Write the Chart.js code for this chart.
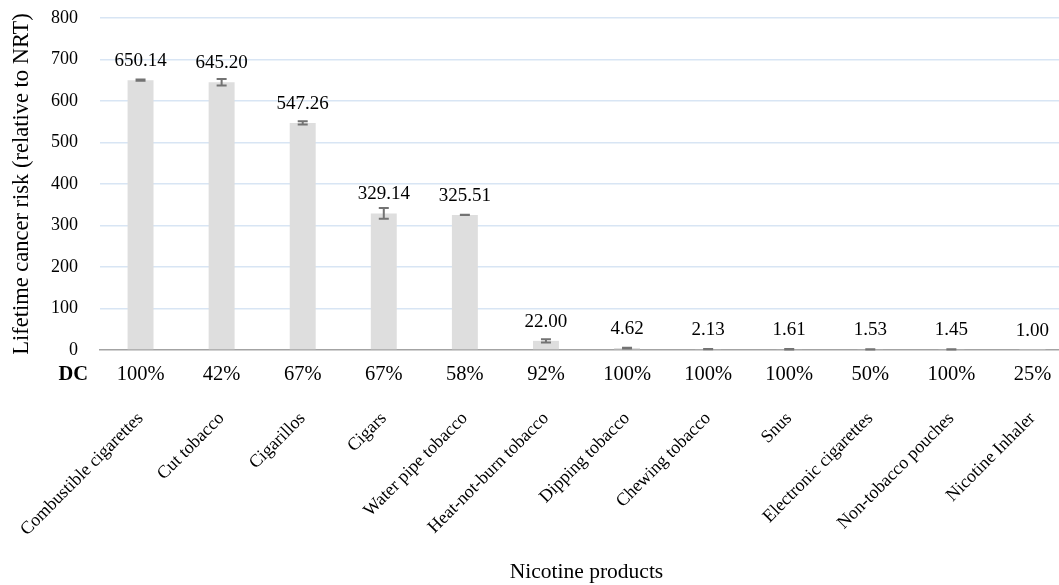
<!DOCTYPE html>
<html>
<head>
<meta charset="utf-8">
<script src="https://cdn.jsdelivr.net/npm/chart.js@4.4.1/dist/chart.umd.min.js"></script>
<style>
    html, body { margin: 0; padding: 0; background: #ffffff; overflow: hidden; }
    #wrap { width: 1073px; height: 585px; }
</style>
</head>
<body>
<div id="wrap"><canvas id="riskChart" width="1073" height="585"></canvas></div>
<script>
// Products along the x axis
const products = [
    "Combustible cigarettes", "Cut tobacco", "Cigarillos", "Cigars",
    "Water pipe tobacco", "Heat-not-burn tobacco", "Dipping tobacco",
    "Chewing tobacco", "Snus", "Electronic cigarettes",
    "Non-tobacco pouches", "Nicotine Inhaler"
];

// Lifetime cancer risk relative to NRT
const riskValues = [650.14, 645.20, 547.26, 329.14, 325.51, 22.00, 4.62, 2.13, 1.61, 1.53, 1.45, 1.00];

// Error bar half-widths
const riskErrors = [1.5, 8, 4, 13, 0.5, 4, 1, 0.5, 0.5, 0.5, 0.5, 0];

// DC row under the axis
const dcLabels = ["100%", "42%", "67%", "67%", "58%", "92%", "100%", "100%", "100%", "50%", "100%", "25%"];

const serif = "'Liberation Serif', 'Times New Roman', serif";

// draws error bars, value labels and the DC row
const extrasPlugin = {
    id: 'extras',
    afterDatasetsDraw(chart) {
        const ctx = chart.ctx;
        const xScale = chart.scales.x;
        const yScale = chart.scales.y;

        ctx.save();
        ctx.strokeStyle = '#737373';
        ctx.lineWidth = 2;
        riskValues.forEach((v, i) => {
            const err = riskErrors[i];
            if (!err) return;
            const x = xScale.getPixelForValue(i);
            const yTop = yScale.getPixelForValue(v + err);
            const yBot = yScale.getPixelForValue(v - err);
            ctx.beginPath();
            ctx.moveTo(x, yTop);
            ctx.lineTo(x, yBot);
            ctx.moveTo(x - 5, yTop);
            ctx.lineTo(x + 5, yTop);
            ctx.moveTo(x - 5, yBot);
            ctx.lineTo(x + 5, yBot);
            ctx.stroke();
        });

        // value labels
        ctx.fillStyle = '#000000';
        ctx.font = '19px ' + serif;
        ctx.textAlign = 'center';
        ctx.textBaseline = 'alphabetic';
        riskValues.forEach((v, i) => {
            const x = xScale.getPixelForValue(i);
            const y = yScale.getPixelForValue(v) - 14;
            ctx.fillText(v.toFixed(2), x, y);
        });

        // DC row
        ctx.textBaseline = 'middle';
        ctx.font = '20.5px ' + serif;
        dcLabels.forEach((lbl, i) => {
            ctx.fillText(lbl, xScale.getPixelForValue(i), 375);
        });
        ctx.font = 'bold 20.5px ' + serif;
        ctx.textAlign = 'right';
        ctx.fillText('DC', 88, 375);
        ctx.restore();
    }
};

function initialiseChart() {
    const ctx = document.getElementById('riskChart').getContext('2d');
    new Chart(ctx, {
        type: 'bar',
        data: {
            labels: products,
            datasets: [{
                label: 'Lifetime cancer risk',
                data: riskValues,
                backgroundColor: '#dedede',
                borderWidth: 0,
                barPercentage: 0.32,
                categoryPercentage: 1.0
            }]
        },
        options: {
            responsive: false,
            animation: false,
            layout: { padding: { top: 18, right: 0, left: 0, bottom: 0 } },
            plugins: {
                legend: { display: false },
                tooltip: { enabled: false }
            },
            scales: {
                x: {
                    grid: { display: false, drawTicks: false },
                    border: { display: true, color: '#a3a3a3', width: 1.5 },
                    ticks: {
                        color: '#000000',
                        font: { family: serif, size: 18 },
                        maxRotation: 45,
                        minRotation: 45,
                        autoSkip: false,
                        padding: 58
                    },
                    title: {
                        display: true,
                        text: 'Nicotine products',
                        color: '#000000',
                        font: { family: serif, size: 21.5 },
                        padding: { top: 0, bottom: 0 }
                    },
                    afterFit(scale) {
                        scale.height = 235;
                        scale.paddingLeft = 0;
                        scale.paddingRight = 0;
                        scale.paddingTop = 0;
                        scale.paddingBottom = 0;
                    }
                },
                y: {
                    min: 0,
                    max: 800,
                    ticks: {
                        stepSize: 100,
                        color: '#000000',
                        font: { family: serif, size: 18 },
                        padding: 22
                    },
                    grid: {
                        drawTicks: false,
                        color: ctx => ctx.tick && ctx.tick.value === 0 ? 'rgba(0,0,0,0)' : '#d8e5f4',
                        lineWidth: 1.5
                    },
                    border: { display: false },
                    title: {
                        display: true,
                        text: 'Lifetime cancer risk (relative to NRT)',
                        color: '#000000',
                        font: { family: serif, size: 22.5 },
                        padding: { top: 9, bottom: 0 }
                    },
                    afterFit(scale) {
                        scale.width = 100;
                        scale.paddingTop = 0;
                        scale.paddingBottom = 0;
                        scale.paddingLeft = 0;
                        scale.paddingRight = 0;
                    }
                }
            }
        },
        plugins: [extrasPlugin]
    });
}

document.addEventListener('DOMContentLoaded', () => {
    initialiseChart();
});
</script>
</body>
</html>
